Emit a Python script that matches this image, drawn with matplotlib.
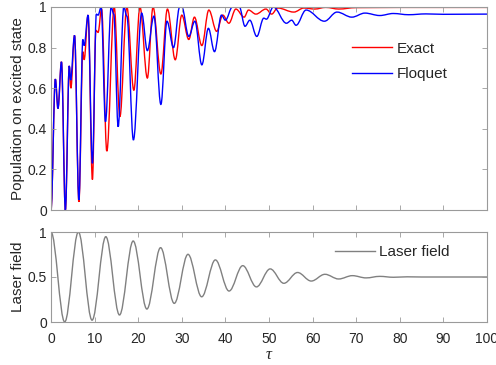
import numpy as np
import matplotlib
matplotlib.use("Agg")
import matplotlib.pyplot as plt
from matplotlib.path import Path
from matplotlib.patches import PathPatch
from matplotlib.lines import Line2D

plt.rcParams['font.family'] = ['Liberation Sans', 'DejaVu Sans']

# ---- data (local extrema of each curve) ----
exact_tau = [0, 1.0, 1.6, 2.4, 3.3, 4.2, 4.55, 5.4, 6.4, 7.3, 7.6, 8.5, 9.5, 10.3, 10.8, 11.6,
             12.8, 14.5, 15.8, 17.4, 19.0, 20.4, 22.1, 23.4, 25.2, 26.7, 28.5, 30.0, 31.6,
             32.9, 34.6, 36.2, 38.0, 39.4, 40.8, 42.4, 44.3, 45.3, 47.0, 49.3, 50.6, 52.0,
             55.7, 58.0, 60.5, 63.0, 66.0, 70.0, 80.0, 100.0]
exact_val = [0.0, 0.645, 0.50, 0.73, 0.0, 0.71, 0.60, 0.86, 0.04, 0.78, 0.74, 0.96, 0.15, 0.885, 0.875, 0.99,
             0.29, 1.0, 0.46, 1.0, 0.59, 1.0, 0.65, 1.0, 0.67, 0.99, 0.74, 0.96, 0.84,
             0.95, 0.81, 0.985, 0.88, 0.96, 0.92, 0.99, 0.95, 0.985, 0.965, 0.99, 0.965, 0.995,
             0.975, 0.995, 0.99, 0.998, 0.99, 0.997, 0.998, 0.998]

floquet_tau = [0, 1.0, 1.6, 2.4, 3.3, 4.2, 4.5, 5.4, 6.4, 7.3, 7.6, 8.5, 9.5, 10.4, 10.8, 11.5,
               12.5, 13.8, 14.4, 15.4, 16.7, 17.4, 18.9, 20.8, 22.1, 23.6, 25.2, 26.6, 28.1,
               29.5, 30.0, 31.6, 33.0, 34.6, 36.1, 37.5, 39.1, 40.0, 41.6, 43.2, 44.5, 45.6,
               47.2, 48.8, 49.4, 51.0, 54.0, 55.2, 56.2, 58.5, 62.7, 65.6, 69.0, 72.0, 75.4,
               78.5, 82.0, 86.0, 90.0, 100.0]
floquet_val = [0.0, 0.645, 0.50, 0.73, 0.0, 0.71, 0.64, 0.86, 0.05, 0.84, 0.81, 0.96, 0.23, 0.965, 0.96, 1.0,
               0.435, 1.0, 0.965, 0.41, 1.0, 0.955, 0.345, 0.97, 0.785, 0.955, 0.52, 0.93, 0.80,
               1.0, 1.0, 0.855, 0.93, 0.715, 0.895, 0.78, 0.96, 0.935, 1.0, 1.0, 0.905, 0.935,
               0.855, 0.945, 0.94, 1.0, 0.92, 0.935, 0.91, 0.985, 0.93, 0.975, 0.95, 0.97, 0.958,
               0.968, 0.962, 0.966, 0.964, 0.965]

laser_tau = [0, 3.14, 6.28, 9.42, 12.57, 15.71, 18.85, 21.99, 25.13, 28.27, 31.42, 34.56,
             37.70, 40.84, 43.98, 47.12, 50.27, 53.41, 56.55, 59.69, 62.83, 65.97, 69.12,
             72.26, 75.40, 78.54, 81.68, 85.0, 100.0]
laser_val = [1.0, 0.0, 1.0, 0.02, 0.948, 0.078, 0.90, 0.144, 0.826, 0.207, 0.752, 0.28,
             0.69, 0.344, 0.626, 0.39, 0.59, 0.43, 0.55, 0.455, 0.53, 0.478, 0.515,
             0.49, 0.507, 0.497, 0.502, 0.5, 0.5]

xticks = [0, 10, 20, 30, 40, 50, 60, 70, 80, 90, 100]
top_yticks = [0, 0.2, 0.4, 0.6, 0.8, 1]
top_yticklabels = ['0', '0.2', '0.4', '0.6', '0.8', '1']
bot_yticks = [0, 0.5, 1]
bot_yticklabels = ['0', '0.5', '1']


def smooth_path(xs, ys):
    """Bezier path through the extrema with horizontal tangents."""
    verts = [(xs[0], ys[0])]
    codes = [Path.MOVETO]
    for i in range(1, len(xs)):
        x0, y0, x1, y1 = xs[i - 1], ys[i - 1], xs[i], ys[i]
        dx = x1 - x0
        verts += [(x0 + 0.36 * dx, y0), (x1 - 0.36 * dx, y1), (x1, y1)]
        codes += [Path.CURVE4] * 3
    return Path(verts, codes)


SPINE = '#9a9a9a'
TXT = '#262626'

fig = plt.figure(figsize=(4.96, 3.65), dpi=100)
ax1 = fig.add_axes([51 / 496, 1 - 210 / 365, 436 / 496, 203 / 365])
ax2 = fig.add_axes([51 / 496, 1 - 322 / 365, 436 / 496, 90 / 365])

ax1.add_patch(PathPatch(smooth_path(exact_tau, exact_val), facecolor='none', edgecolor='#ff0000', lw=1.0))
ax1.add_patch(PathPatch(smooth_path(floquet_tau, floquet_val), facecolor='none', edgecolor='#0000ff', lw=1.0))
ax2.add_patch(PathPatch(smooth_path(laser_tau, laser_val), facecolor='none', edgecolor='#808080', lw=1.0))

for ax in (ax1, ax2):
    ax.set_xlim(0, 100)
    ax.set_ylim(0, 1)
    ax.set_xticks(xticks)
    for s in ax.spines.values():
        s.set_color(SPINE)
        s.set_linewidth(0.8)
    ax.tick_params(direction='in', length=3.5, width=0.6, color=SPINE, labelcolor=TXT,
                   labelsize=10, top=True, right=True, pad=3)
ax2.tick_params(axis='x', pad=7)

ax1.set_yticks(top_yticks)
ax1.set_yticklabels(top_yticklabels)
ax1.set_xticklabels([])
ax2.set_yticks(bot_yticks)
ax2.set_yticklabels(bot_yticklabels)
ax2.set_xticklabels([str(t) for t in xticks])

ax1.set_ylabel('Population on excited state', fontsize=11, color=TXT)
ax1.yaxis.set_label_coords(-0.060, 0.5)
ax2.set_ylabel('Laser field', fontsize=11, color=TXT)
ax2.yaxis.set_label_coords(-0.060, 0.5)
ax2.set_xlabel('τ', fontsize=12, color=TXT, family=['Liberation Serif', 'DejaVu Serif'],
               style='italic', labelpad=1)

h1 = [Line2D([], [], color='#ff0000', lw=1.0), Line2D([], [], color='#0000ff', lw=1.0)]
leg1 = ax1.legend(h1, ['Exact', 'Floquet'], frameon=False, fontsize=11, loc='upper left',
                  bbox_to_anchor=(0.677, 0.86), handlelength=2.6, handletextpad=0.3,
                  labelspacing=0.75, borderaxespad=0)
for t in leg1.get_texts():
    t.set_color(TXT)

h2 = [Line2D([], [], color='#808080', lw=1.0)]
leg2 = ax2.legend(h2, ['Laser field'], frameon=False, fontsize=11, loc='upper left',
                  bbox_to_anchor=(0.637, 0.92), handlelength=2.6, handletextpad=0.3,
                  borderaxespad=0)
for t in leg2.get_texts():
    t.set_color(TXT)

fig.savefig('out.png', dpi=100)
